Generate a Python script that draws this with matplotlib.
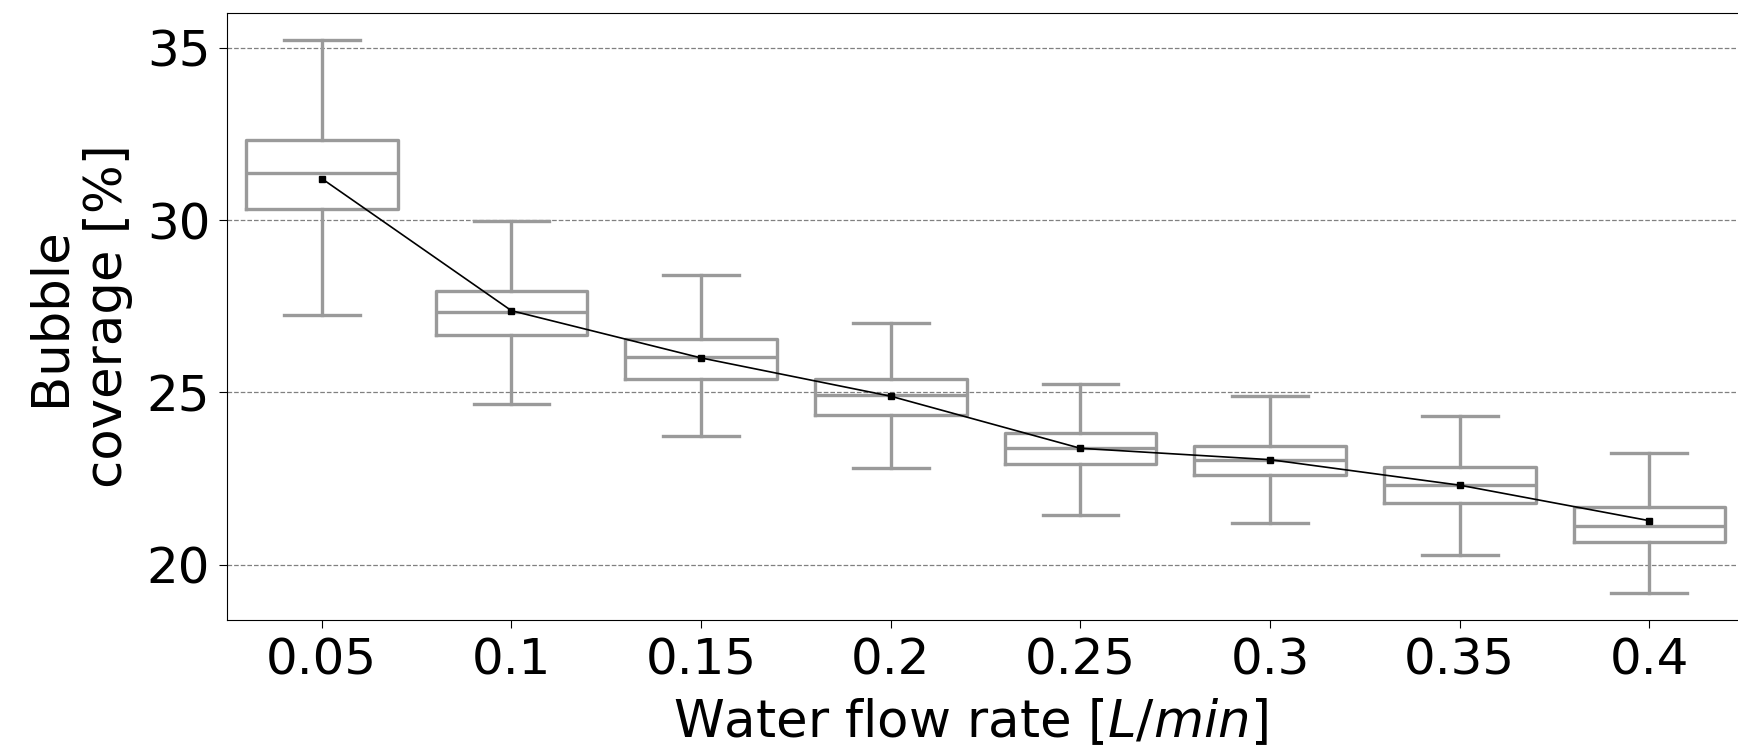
import matplotlib
matplotlib.use("Agg")
import matplotlib.pyplot as plt
import numpy as np

# water flow rate categories
flow_labels = ['0.05', '0.1', '0.15', '0.2', '0.25', '0.3', '0.35', '0.4']

# box statistics, bubble coverage [%]
whislo = [27.24, 24.66, 23.73, 22.80, 21.45, 21.22, 20.28, 19.19]
q1 = [30.33, 26.66, 25.40, 24.34, 22.93, 22.60, 21.80, 20.67]
med = [31.36, 27.34, 26.02, 24.92, 23.38, 23.05, 22.31, 21.12]
q3 = [32.33, 27.95, 26.56, 25.40, 23.83, 23.44, 22.83, 21.67]
whishi = [35.23, 29.98, 28.40, 27.01, 25.24, 24.89, 24.31, 23.25]
means = [31.20, 27.37, 26.00, 24.89, 23.38, 23.05, 22.31, 21.28]

stats = []
for i in range(len(flow_labels)):
    stats.append(dict(whislo=whislo[i], q1=q1[i], med=med[i], q3=q3[i],
                      whishi=whishi[i], fliers=[], label=flow_labels[i]))

fig = plt.figure(figsize=(17.38, 7.53), dpi=100)
ax = fig.add_axes([0.1306, 0.1766, 0.873, 0.806])

grey = '#9a9a9a'
pos = np.arange(len(flow_labels))
ax.bxp(stats, positions=pos, widths=0.8, showfliers=False,
       boxprops=dict(color=grey, linewidth=2.4),
       whiskerprops=dict(color=grey, linewidth=2.4),
       capprops=dict(color=grey, linewidth=2.4),
       medianprops=dict(color=grey, linewidth=2.4))

ax.plot(pos, means, color='black', linewidth=1.2, marker='s', markersize=4.5, zorder=5)

ax.set_xlim(-0.5, 7.5)
ax.set_ylim(18.4, 36.0)
ax.set_yticks([20, 25, 30, 35])
ax.set_xticks(pos)
ax.set_xticklabels(flow_labels)
ax.yaxis.grid(True, linestyle='--', color='grey', linewidth=0.9)
ax.set_axisbelow(True)
ax.tick_params(labelsize=36, length=6, pad=6)
ax.set_xlabel('Water flow rate [$L/min$]', fontsize=37)
ax.xaxis.set_label_coords(0.49, -0.127)
ax.set_ylabel('Bubble\ncoverage [%]', fontsize=37, labelpad=10)

fig.savefig('out.png', dpi=100)
